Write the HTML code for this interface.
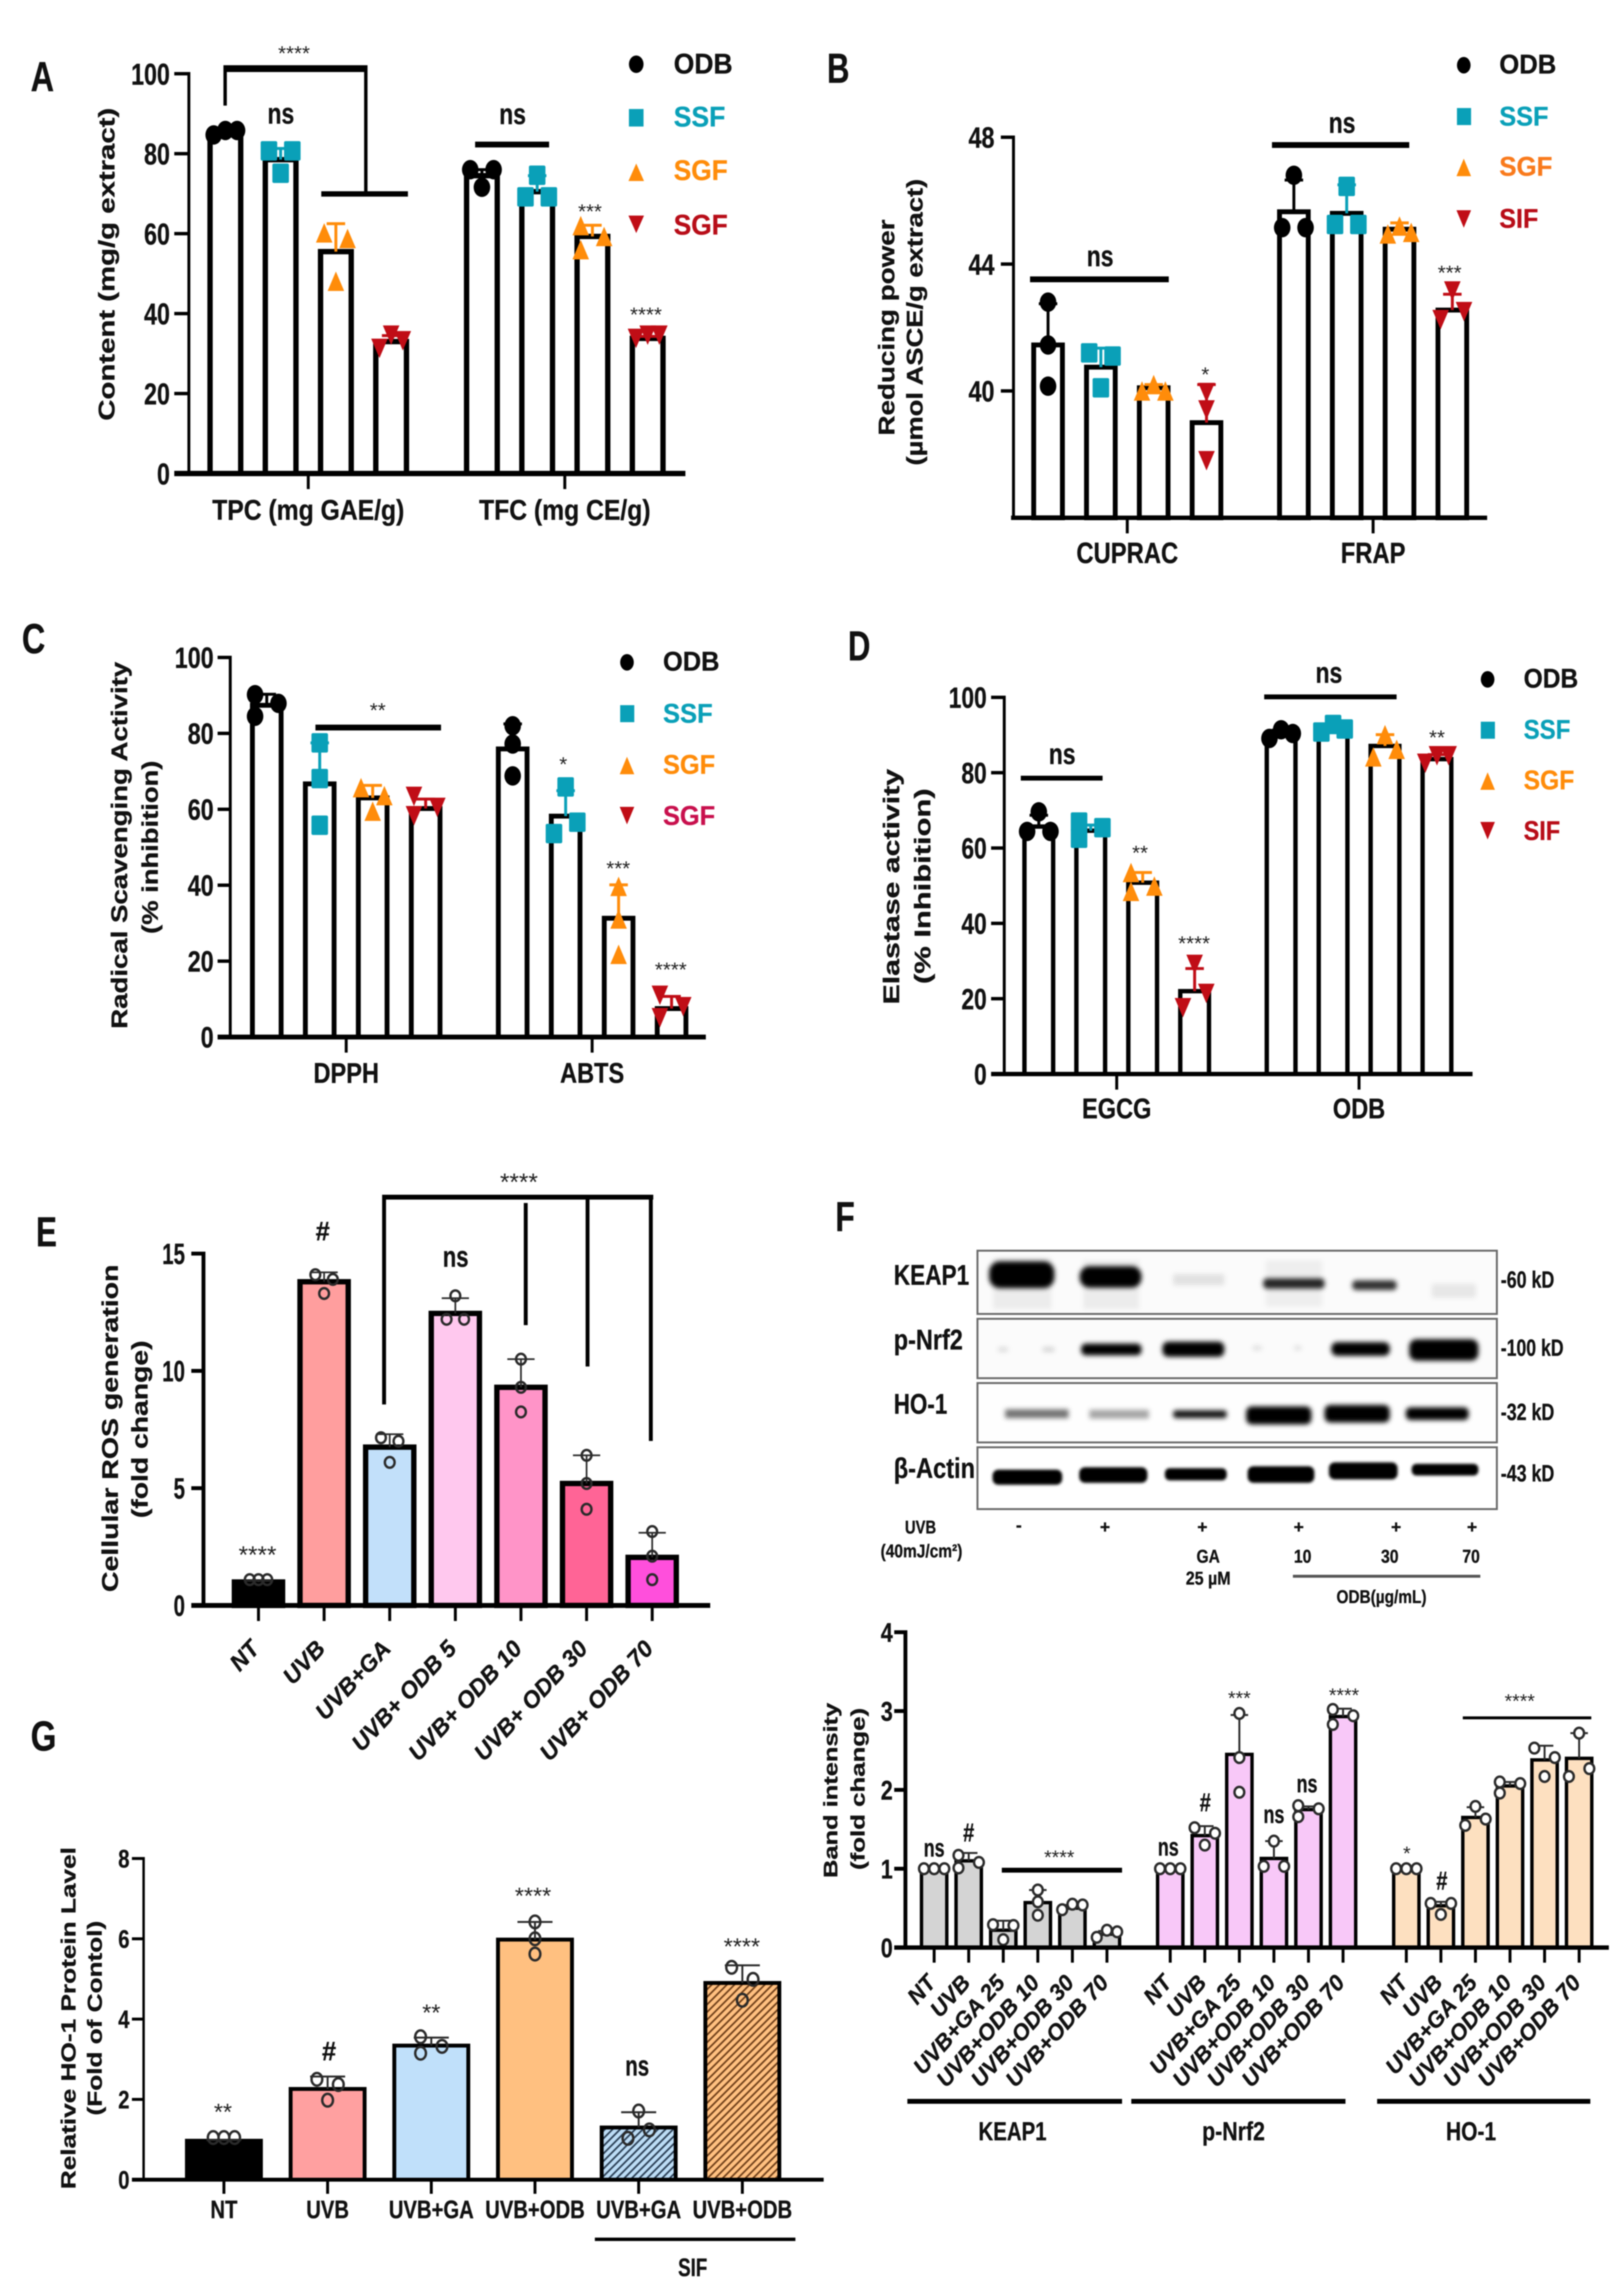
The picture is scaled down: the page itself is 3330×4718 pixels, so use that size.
<!DOCTYPE html>
<html lang="en">
<head>
<meta charset="utf-8">
<title>ODB antioxidant and HO-1 figure</title>
<style>
html,body{margin:0;padding:0;background:#fff;}
svg{display:block;filter:blur(1.3px);}
text{font-family:"Liberation Sans","Noto Sans CJK SC",sans-serif;font-weight:bold;fill:#111;stroke:#111;stroke-width:.6px;}
.m{text-anchor:middle;}
.st{font-weight:normal;fill:#222;stroke:none;text-anchor:middle;}
.teal{fill:#0aa0b8;stroke:#0aa0b8;}
.orange{fill:#ff8c0a;stroke:#ff8c0a;}
.red{fill:#b80d18;stroke:#b80d18;}
.crimson{fill:#c8104d;stroke:#c8104d;}
</style>
</head>
<body>
<svg id="figure" xmlns="http://www.w3.org/2000/svg" width="3330" height="4718" viewBox="0 0 3330 4718">
<defs>
<pattern id="hatch-blue" patternUnits="userSpaceOnUse" width="11" height="11" patternTransform="rotate(-45)">
<rect width="11" height="11" fill="#bcdcf5"/><rect width="11" height="3.5" fill="#2b3f55"/>
</pattern>
<pattern id="hatch-orange" patternUnits="userSpaceOnUse" width="11" height="11" patternTransform="rotate(-45)">
<rect width="11" height="11" fill="#ffc080"/><rect width="11" height="3.5" fill="#70401a"/>
</pattern>
<filter id="band-blur" x="-20%" y="-60%" width="140%" height="220%"><feGaussianBlur stdDeviation="5"/></filter>
</defs>
<rect width="3330" height="4718" fill="#fff"/>

<g id="charts"></g>

<g id="panel-letters" font-size="86">
<text x="63" y="187" textLength="48" lengthAdjust="spacingAndGlyphs">A</text>
<text x="1699" y="170" textLength="46" lengthAdjust="spacingAndGlyphs">B</text>
<text x="45" y="1342" textLength="48" lengthAdjust="spacingAndGlyphs">C</text>
<text x="1742" y="1357" textLength="46" lengthAdjust="spacingAndGlyphs">D</text>
<text x="74" y="2561" textLength="43" lengthAdjust="spacingAndGlyphs">E</text>
<text x="1716" y="2530" textLength="40" lengthAdjust="spacingAndGlyphs">F</text>
<text x="63" y="3597" textLength="53" lengthAdjust="spacingAndGlyphs">G</text>
</g>

<g id="axis-titles" class="m">
<text class="m" font-size="46" transform="translate(235,543) rotate(-90)" textLength="643" lengthAdjust="spacingAndGlyphs">Content (mg/g extract)</text>
<text class="m" font-size="46" transform="translate(1837,673) rotate(-90)" textLength="444" lengthAdjust="spacingAndGlyphs">Reducing power</text>
<text class="m" font-size="46" transform="translate(1895,662) rotate(-90)" textLength="589" lengthAdjust="spacingAndGlyphs">(µmol ASCE/g extract)</text>
<text class="m" font-size="46" transform="translate(261,1737) rotate(-90)" textLength="754" lengthAdjust="spacingAndGlyphs">Radical Scavenging Activity</text>
<text class="m" font-size="46" transform="translate(324,1741) rotate(-90)" textLength="356" lengthAdjust="spacingAndGlyphs">(% inhibition)</text>
<text class="m" font-size="46" transform="translate(1847,1822) rotate(-90)" textLength="484" lengthAdjust="spacingAndGlyphs">Elastase activity</text>
<text class="m" font-size="46" transform="translate(1911,1821) rotate(-90)" textLength="402" lengthAdjust="spacingAndGlyphs">(% Inhibition)</text>
<text class="m" font-size="46" transform="translate(242,2935) rotate(-90)" textLength="673" lengthAdjust="spacingAndGlyphs">Cellular ROS generation</text>
<text class="m" font-size="46" transform="translate(303,2937) rotate(-90)" textLength="365" lengthAdjust="spacingAndGlyphs">(fold change)</text>
<text class="m" font-size="40" transform="translate(1720,3679) rotate(-90)" textLength="360" lengthAdjust="spacingAndGlyphs">Band intensity</text>
<text class="m" font-size="40" transform="translate(1776,3676) rotate(-90)" textLength="333" lengthAdjust="spacingAndGlyphs">(fold change)</text>
<text class="m" font-size="42" transform="translate(155,4147) rotate(-90)" textLength="703" lengthAdjust="spacingAndGlyphs">Relative HO-1 Protein Lavel</text>
<text class="m" font-size="42" transform="translate(209,4147) rotate(-90)" textLength="400" lengthAdjust="spacingAndGlyphs">(Fold of Contol)</text>
</g>

<g id="legend-a" font-size="58">
<ellipse cx="1307" cy="132" rx="15" ry="18" fill="#000"/>
<text x="1384" y="151" textLength="121" lengthAdjust="spacingAndGlyphs">ODB</text>
<rect x="1292" y="224" width="30" height="36" fill="#0aa0b8"/>
<text class="teal" x="1384" y="260" textLength="106" lengthAdjust="spacingAndGlyphs">SSF</text>
<polygon points="1307,336 1323,372 1291,372" fill="#ff8c0a"/>
<text class="orange" x="1384" y="370" textLength="111" lengthAdjust="spacingAndGlyphs">SGF</text>
<polygon points="1291,443 1323,443 1307,479" fill="#c00d16"/>
<text class="red" x="1384" y="482" textLength="111" lengthAdjust="spacingAndGlyphs">SGF</text>
</g>

<g id="legend-b" font-size="56">
<ellipse cx="3007" cy="134" rx="14" ry="17" fill="#000"/>
<text x="3080" y="151" textLength="117" lengthAdjust="spacingAndGlyphs">ODB</text>
<rect x="2993" y="222" width="29" height="35" fill="#0aa0b8"/>
<text class="teal" x="3080" y="258" textLength="101" lengthAdjust="spacingAndGlyphs">SSF</text>
<polygon points="3007,326 3022,362 2992,362" fill="#ff8c0a"/>
<text x="3080" y="361" textLength="109" lengthAdjust="spacingAndGlyphs" style="fill:#f97a1c;stroke:#f97a1c">SGF</text>
<polygon points="2992,432 3022,432 3007,468" fill="#c00d16"/>
<text class="red" x="3080" y="468" textLength="80" lengthAdjust="spacingAndGlyphs">SIF</text>
</g>

<g id="legend-c" font-size="56">
<ellipse cx="1288" cy="1361" rx="14" ry="17" fill="#000"/>
<text x="1362" y="1378" textLength="116" lengthAdjust="spacingAndGlyphs">ODB</text>
<rect x="1274" y="1449" width="29" height="35" fill="#0aa0b8"/>
<text class="teal" x="1362" y="1485" textLength="102" lengthAdjust="spacingAndGlyphs">SSF</text>
<polygon points="1288,1555 1303,1591 1273,1591" fill="#ff8c0a"/>
<text class="orange" x="1362" y="1590" textLength="107" lengthAdjust="spacingAndGlyphs">SGF</text>
<polygon points="1273,1658 1303,1658 1288,1694" fill="#c00d16"/>
<text class="crimson" x="1362" y="1695" textLength="107" lengthAdjust="spacingAndGlyphs">SGF</text>
</g>

<g id="legend-d" font-size="56">
<ellipse cx="3056" cy="1396" rx="14" ry="17" fill="#000"/>
<text x="3130" y="1413" textLength="112" lengthAdjust="spacingAndGlyphs">ODB</text>
<rect x="3042" y="1483" width="29" height="35" fill="#0aa0b8"/>
<text class="teal" x="3130" y="1518" textLength="96" lengthAdjust="spacingAndGlyphs">SSF</text>
<polygon points="3056,1587 3071,1623 3041,1623" fill="#ff8c0a"/>
<text class="orange" x="3130" y="1622" textLength="104" lengthAdjust="spacingAndGlyphs">SGF</text>
<polygon points="3041,1689 3071,1689 3056,1725" fill="#c00d16"/>
<text class="red" x="3130" y="1726" textLength="75" lengthAdjust="spacingAndGlyphs">SIF</text>
</g>

<g id="annotations-a">
<rect x="459" y="134" width="296" height="14" fill="#000"/>
<rect x="459" y="134" width="7" height="83" fill="#000"/>
<rect x="748" y="134" width="7" height="264" fill="#000"/>
<rect x="660" y="393" width="178" height="11" fill="#000"/>
<rect x="976" y="291" width="152" height="12" fill="#000"/>
<text class="st" x="604" y="124" font-size="42">****</text>
<text class="m" x="577" y="254" font-size="60" textLength="55" lengthAdjust="spacingAndGlyphs">ns</text>
<text class="m" x="1053" y="255" font-size="60" textLength="55" lengthAdjust="spacingAndGlyphs">ns</text>
<text class="st" x="1212" y="449" font-size="42">***</text>
<text class="st" x="1327" y="661" font-size="42">****</text>
</g>

<g id="annotations-b">
<rect x="2116" y="568" width="285" height="12" fill="#000"/>
<rect x="2613" y="292" width="282" height="12" fill="#000"/>
<text class="m" x="2260" y="547" font-size="60" textLength="55" lengthAdjust="spacingAndGlyphs">ns</text>
<text class="m" x="2757" y="273" font-size="60" textLength="55" lengthAdjust="spacingAndGlyphs">ns</text>
<text class="st" x="2476" y="784" font-size="42">*</text>
<text class="st" x="2978" y="575" font-size="42">***</text>
</g>

<g id="annotations-c">
<rect x="648" y="1489" width="258" height="12" fill="#000"/>
<text class="st" x="776" y="1474" font-size="42">**</text>
<text class="st" x="1157" y="1585" font-size="42">*</text>
<text class="st" x="1270" y="1799" font-size="42">***</text>
<text class="st" x="1378" y="2007" font-size="42">****</text>
</g>

<g id="annotations-d">
<rect x="2097" y="1594" width="168" height="10" fill="#000"/>
<rect x="2597" y="1427" width="272" height="10" fill="#000"/>
<text class="m" x="2182" y="1570" font-size="60" textLength="55" lengthAdjust="spacingAndGlyphs">ns</text>
<text class="m" x="2730" y="1403" font-size="60" textLength="55" lengthAdjust="spacingAndGlyphs">ns</text>
<text class="st" x="2342" y="1767" font-size="42">**</text>
<text class="st" x="2453" y="1953" font-size="42">****</text>
<text class="st" x="2952" y="1530" font-size="42">**</text>
</g>

<g id="annotations-e">
<rect x="785" y="2455" width="557" height="10" fill="#000"/>
<rect x="785" y="2455" width="8" height="431" fill="#000"/>
<rect x="1076" y="2472" width="8" height="251" fill="#000"/>
<rect x="1203" y="2455" width="8" height="353" fill="#000"/>
<rect x="1333" y="2455" width="8" height="506" fill="#000"/>
<text class="st" x="1066" y="2446" font-size="50">****</text>
<text class="m" x="663" y="2549" font-size="56" textLength="29" lengthAdjust="spacingAndGlyphs">#</text>
<text class="m" x="936" y="2603" font-size="60" textLength="53" lengthAdjust="spacingAndGlyphs">ns</text>
<text class="st" x="529" y="3212" font-size="50">****</text>
</g>

<g id="annotations-f">
<rect x="2058" y="3838" width="247" height="10" fill="#000"/>
<rect x="3005" y="3527" width="264" height="6" fill="#000"/>
<rect x="1864" y="4313" width="441" height="10" fill="#000"/>
<rect x="2324" y="4313" width="440" height="10" fill="#000"/>
<rect x="2829" y="4313" width="438" height="10" fill="#000"/>
<text class="m" x="2080" y="4398" font-size="54" textLength="140" lengthAdjust="spacingAndGlyphs">KEAP1</text>
<text class="m" x="2534" y="4398" font-size="54" textLength="129" lengthAdjust="spacingAndGlyphs">p-Nrf2</text>
<text class="m" x="3022" y="4398" font-size="54" textLength="103" lengthAdjust="spacingAndGlyphs">HO-1</text>
<text class="m" x="1919" y="3815" font-size="52" textLength="43" lengthAdjust="spacingAndGlyphs">ns</text>
<text class="m" x="1990" y="3784" font-size="54" textLength="23" lengthAdjust="spacingAndGlyphs">#</text>
<text class="st" x="2176" y="3830" font-size="40">****</text>
<text class="m" x="2400" y="3813" font-size="52" textLength="43" lengthAdjust="spacingAndGlyphs">ns</text>
<text class="m" x="2476" y="3722" font-size="54" textLength="23" lengthAdjust="spacingAndGlyphs">#</text>
<text class="st" x="2546" y="3503" font-size="40">***</text>
<text class="m" x="2617" y="3746" font-size="52" textLength="43" lengthAdjust="spacingAndGlyphs">ns</text>
<text class="m" x="2685" y="3683" font-size="52" textLength="43" lengthAdjust="spacingAndGlyphs">ns</text>
<text class="st" x="2761" y="3497" font-size="40">****</text>
<text class="st" x="2890" y="3822" font-size="40">*</text>
<text class="m" x="2962" y="3883" font-size="54" textLength="23" lengthAdjust="spacingAndGlyphs">#</text>
<text class="st" x="3122" y="3509" font-size="40">****</text>
</g>

<g id="annotations-g">
<rect x="1222" y="4598" width="412" height="7" fill="#000"/>
<text class="m" x="1423" y="4677" font-size="52" textLength="60" lengthAdjust="spacingAndGlyphs">SIF</text>
<text class="st" x="458" y="4356" font-size="48">**</text>
<text class="m" x="676" y="4234" font-size="56" textLength="29" lengthAdjust="spacingAndGlyphs">#</text>
<text class="st" x="886" y="4152" font-size="48">**</text>
<text class="st" x="1095" y="3912" font-size="48">****</text>
<text class="m" x="1309" y="4265" font-size="58" textLength="49" lengthAdjust="spacingAndGlyphs">ns</text>
<text class="st" x="1524" y="4016" font-size="48">****</text>
</g>

<g id="western-blot">
<rect x="2008" y="2570" width="1067" height="130" fill="#fbfbfb" stroke="#6a6a6a" stroke-width="4"/>
<rect x="2008" y="2710" width="1067" height="122" fill="#fbfbfb" stroke="#6a6a6a" stroke-width="4"/>
<rect x="2008" y="2842" width="1067" height="122" fill="#fefefe" stroke="#6a6a6a" stroke-width="4"/>
<rect x="2008" y="2974" width="1067" height="127" fill="#fff" stroke="#6a6a6a" stroke-width="4"/>
<g filter="url(#band-blur)" fill="#000">
<rect x="2040" y="2585" width="120" height="105" opacity=".06"/>
<rect x="2225" y="2590" width="115" height="100" opacity=".06"/>
<rect x="2600" y="2590" width="116" height="95" opacity=".05"/>
<rect x="2032" y="2592" rx="22" width="134" height="55"/>
<rect x="2218" y="2602" rx="20" width="127" height="44"/>
<rect x="2410" y="2618" width="105" height="23" opacity=".1"/>
<rect x="2595" y="2627" rx="8" width="126" height="21" opacity=".85"/>
<rect x="2778" y="2631" rx="8" width="91" height="20" opacity=".8"/>
<rect x="2941" y="2638" width="91" height="29" opacity=".08"/>
<rect x="2051" y="2768" width="19" height="10" opacity=".12"/>
<rect x="2142" y="2768" width="24" height="10" opacity=".15"/>
<rect x="2221" y="2761" rx="10" width="124" height="24"/>
<rect x="2388" y="2757" rx="12" width="127" height="31"/>
<rect x="2573" y="2765" width="19" height="10" opacity=".1"/>
<rect x="2659" y="2765" width="14" height="10" opacity=".1"/>
<rect x="2735" y="2758" rx="12" width="120" height="28"/>
<rect x="2895" y="2752" rx="15" width="142" height="44"/>
<rect x="2065" y="2896" width="130" height="18" opacity=".55"/>
<rect x="2238" y="2897" width="122" height="18" opacity=".35"/>
<rect x="2410" y="2898" rx="6" width="110" height="16" opacity=".92"/>
<rect x="2560" y="2890" rx="12" width="134" height="37"/>
<rect x="2721" y="2887" rx="12" width="134" height="36"/>
<rect x="2888" y="2892" rx="10" width="129" height="26"/>
</g>
<g fill="#000" style="filter:blur(3px)">
<rect x="2039" y="3020" rx="12" width="143" height="31"/>
<rect x="2217" y="3015" rx="12" width="140" height="32"/>
<rect x="2393" y="3017" rx="10" width="127" height="25"/>
<rect x="2563" y="3013" rx="12" width="137" height="34"/>
<rect x="2730" y="3005" rx="12" width="141" height="35"/>
<rect x="2900" y="3008" rx="10" width="137" height="24"/>
</g>
<text x="1836" y="2640" font-size="58" textLength="155" lengthAdjust="spacingAndGlyphs">KEAP1</text>
<text x="1836" y="2773" font-size="58" textLength="142" lengthAdjust="spacingAndGlyphs">p-Nrf2</text>
<text x="1836" y="2905" font-size="58" textLength="110" lengthAdjust="spacingAndGlyphs">HO-1</text>
<text x="1836" y="3037" font-size="58" textLength="167" lengthAdjust="spacingAndGlyphs">β-Actin</text>
<text x="3083" y="2646" font-size="48" textLength="110" lengthAdjust="spacingAndGlyphs">-60 kD</text>
<text x="3083" y="2786" font-size="48" textLength="129" lengthAdjust="spacingAndGlyphs">-100 kD</text>
<text x="3083" y="2918" font-size="48" textLength="110" lengthAdjust="spacingAndGlyphs">-32 kD</text>
<text x="3083" y="3044" font-size="48" textLength="110" lengthAdjust="spacingAndGlyphs">-43 kD</text>
<text class="m" x="1891" y="3151" font-size="38" textLength="64" lengthAdjust="spacingAndGlyphs">UVB</text>
<text class="m" x="1893" y="3200" font-size="38" textLength="168" lengthAdjust="spacingAndGlyphs">(40mJ/cm²)</text>
<text class="m" x="2093" y="3146" font-size="36">-</text>
<text class="m" x="2270" y="3150" font-size="36">+</text>
<text class="m" x="2470" y="3150" font-size="36">+</text>
<text class="m" x="2668" y="3150" font-size="36">+</text>
<text class="m" x="2868" y="3150" font-size="36">+</text>
<text class="m" x="3024" y="3150" font-size="36">+</text>
<text class="m" x="2482" y="3211" font-size="38" textLength="48" lengthAdjust="spacingAndGlyphs">GA</text>
<text class="m" x="2482" y="3256" font-size="38" textLength="92" lengthAdjust="spacingAndGlyphs">25 µM</text>
<text class="m" x="2676" y="3211" font-size="38" textLength="36" lengthAdjust="spacingAndGlyphs">10</text>
<text class="m" x="2855" y="3211" font-size="38" textLength="36" lengthAdjust="spacingAndGlyphs">30</text>
<text class="m" x="3022" y="3211" font-size="38" textLength="36" lengthAdjust="spacingAndGlyphs">70</text>
<rect x="2656" y="3236" width="385" height="6" fill="#555"/>
<text class="m" x="2838" y="3294" font-size="38" textLength="185" lengthAdjust="spacingAndGlyphs">ODB(µg/mL)</text>
</g>
</svg>

<script>
/* Panel A */
const aGroups = ['TPC (mg GAE/g)', 'TFC (mg CE/g)'];
const aTicks = [0, 20, 40, 60, 80, 100];
const aMeans = [85.4, 78.5, 55.5, 33, 74.5, 70.5, 59.3, 33.8];
const aErrors = [0.6, 2.8, 7, 1.5, 1.5, 4, 2.8, 0.5];
const aPoints = [[85.8, 85.8, 84.7], [80.7, 80.7, 75.1], [60.2, 58.8, 48.1], [34.6, 33.2, 31.3], [76, 76, 71.6], [74.6, 69.2, 69.2], [62, 59.3, 56], [34.6, 34.6, 33.8]];

/* Panel B */
const bGroups = ['CUPRAC', 'FRAP'];
const bTicks = [40, 44, 48];
const bMeans = [41.45, 40.75, 40.1, 39, 45.65, 45.6, 45.1, 42.55];
const bErrors = [1.3, 0.6, 0.1, 1.2, 1, 0.9, 0.2, 0.5];
const bPoints = [[42.8, 41.45, 40.15], [41.2, 41.1, 40.1], [40.2, 40, 40], [39.95, 39.4, 37.8], [46.8, 45.15, 45.15], [46.45, 45.25, 45.25], [45.2, 44.95, 45], [43.15, 42.5, 42.25]];

/* Panel C */
const cGroups = ['DPPH', 'ABTS'];
const cTicks = [0, 20, 40, 60, 80, 100];
const cMeans = [87.4, 66.7, 63, 60.2, 75.9, 58.2, 31.3, 7.5];
const cErrors = [2.9, 10.8, 3.3, 2.5, 6.6, 6.7, 8.8, 3.2];
const cPoints = [[90.2, 87.9, 84.5], [77.5, 68.1, 55.8], [65.7, 63.6, 59.5], [63.4, 60.5, 58.3], [82, 77.2, 68.8], [65.9, 56.6, 53.6], [39.7, 31.1, 21.8], [11, 8, 5.1]];

/* Panel D */
const dGroups = ['EGCG', 'ODB'];
const dTicks = [0, 20, 40, 60, 80, 100];
const dMeans = [65.7, 64.6, 50.8, 22, 90.3, 91.7, 87.1, 83.6];
const dErrors = [3, 1.5, 2.7, 6, 1, 1, 3, 1.2];
const dPoints = [[69.6, 64.4, 64.4], [66.9, 65.4, 62.6], [53.5, 49.9, 48.5], [29.1, 21.4, 17.6], [91.4, 90.4, 89.1], [92.8, 91.6, 90.8], [90.1, 86.2, 84.2], [84.5, 84.5, 82.5]];

/* Panel E */
const eCategories = ['NT', 'UVB', 'UVB+GA', 'UVB+ ODB 5', 'UVB+ ODB 10', 'UVB+ ODB 30', 'UVB+ ODB 70'];
const eTicks = [0, 5, 10, 15];
const eMeans = [1, 13.8, 6.75, 12.45, 9.3, 5.2, 2.05];
const eErrors = [0.05, 0.4, 0.55, 0.65, 1.2, 1.2, 1.05];
const ePoints = [[1.1, 1.1, 1.1], [14.1, 13.9, 13.3], [7.15, 7, 6.1], [13.2, 12.2, 12.2], [10.5, 9.3, 8.25], [6.4, 5.2, 4.1], [3.15, 2.1, 1.1]];

/* Panel F (band intensity) */
const fCategories = ['NT', 'UVB', 'UVB+GA 25', 'UVB+ODB 10', 'UVB+ODB 30', 'UVB+ODB 70', 'NT', 'UVB', 'UVB+GA 25', 'UVB+ODB 10', 'UVB+ODB 30', 'UVB+ODB 70', 'NT', 'UVB', 'UVB+GA 25', 'UVB+ODB 10', 'UVB+ODB 30', 'UVB+ODB 70'];
const fTicks = [0, 1, 2, 3, 4];
const fMeans = [1, 1.1, 0.22, 0.57, 0.5, 0.17, 1, 1.42, 2.45, 1.13, 1.75, 2.93, 1, 0.53, 1.65, 2.05, 2.38, 2.4];
const fErrors = [0.01, 0.1, 0.12, 0.16, 0.04, 0.04, 0.01, 0.12, 0.5, 0.22, 0.04, 0.1, 0.01, 0.05, 0.13, 0.05, 0.18, 0.32];
const fPoints = [[1, 1, 1], [1.17, 1.08, 1.01], [0.29, 0.28, 0.1], [0.73, 0.58, 0.41], [0.55, 0.54, 0.48], [0.22, 0.2, 0.13], [1, 1, 1], [1.52, 1.45, 1.3], [2.97, 2.41, 1.97], [1.35, 1.03, 1.03], [1.8, 1.76, 1.66], [3.02, 2.94, 2.83], [1, 1, 1], [0.56, 0.56, 0.42], [1.79, 1.63, 1.55], [2.1, 2.08, 1.96], [2.53, 2.41, 2.17], [2.72, 2.27, 2.17]];

/* Panel G */
const gCategories = ['NT', 'UVB', 'UVB+GA', 'UVB+ODB', 'UVB+GA', 'UVB+ODB'];
const gTicks = [0, 2, 4, 6, 8];
const gMeans = [0.97, 2.26, 3.34, 5.98, 1.3, 4.9];
const gErrors = [0.02, 0.31, 0.2, 0.44, 0.38, 0.44];
const gPoints = [[1.05, 1.05, 1.05], [2.5, 2.37, 1.98], [3.56, 3.32, 3.15], [6.42, 6, 5.62], [1.71, 1.24, 1.03], [5.29, 4.99, 4.47]];

const NS = 'http://www.w3.org/2000/svg';
const SERIES_SHAPES = ['circle', 'square', 'tri', 'tridown'];
const SERIES_COLORS = ['#000', '#0aa0b8', '#ff8c0a', '#c00d16'];

function add(parent, tag, attrs, name) {
  const el = document.createElementNS(NS, tag);
  for (const k in attrs) el.setAttribute(k, attrs[k]);
  
  
  parent.appendChild(el);
  return el;
}

function spread(vals, y, w, th) {
  const order = vals.map((v, i) => [v, i]).sort((a, b) => b[0] - a[0]);
  const g1 = y(order[1][0]) - y(order[0][0]);
  const g2 = y(order[2][0]) - y(order[1][0]);
  let pattern;
  if (g1 >= th && g2 >= th) pattern = [0, 0, 0];
  else if (g1 >= th) pattern = [0, 1, -1];
  else if (g2 >= th) pattern = [-1, 1, 0];
  else if (g1 + g2 < th) pattern = [0, 1, -1];
  else pattern = [-1, 1, -1];
  const out = [];
  order.forEach((o, k) => { out[o[1]] = pattern[k] * w; });
  return out;
}

function marker(g, shape, cx, cy, color, c, name) {
  const rx = c.mrx, ry = c.mry;
  if (c.open) {
    add(g, 'ellipse', {cx: cx, cy: cy, rx: rx, ry: ry, fill: c.openFill, stroke: '#2a2a2a', 'stroke-width': c.openStroke}, name);
  } else if (shape === 'circle') {
    add(g, 'ellipse', {cx: cx, cy: cy, rx: rx, ry: ry, fill: color}, name);
  } else if (shape === 'square') {
    add(g, 'rect', {x: cx - rx, y: cy - ry, width: 2 * rx, height: 2 * ry, rx: 3, fill: color}, name);
  } else if (shape === 'tri') {
    add(g, 'polygon', {points: (cx) + ',' + (cy - ry) + ' ' + (cx + rx) + ',' + (cy + ry) + ' ' + (cx - rx) + ',' + (cy + ry), fill: color}, name);
  } else {
    add(g, 'polygon', {points: (cx - rx) + ',' + (cy - ry) + ' ' + (cx + rx) + ',' + (cy - ry) + ' ' + (cx) + ',' + (cy + ry), fill: color}, name);
  }
}

function drawPanel(c) {
  const root = document.getElementById('charts');
  const g = add(root, 'g', {}, c.id + '-chart');
  const y = v => c.yBase - (v - c.lo) / (c.hi - c.lo) * (c.yBase - c.yTop);
  const x = i => c.first + i * c.pitch + Math.floor(i / c.groupSize) * c.groupGap;

  c.means.forEach((m, i) => {
    const fill = c.fills ? c.fills[c.fills.length === c.means.length ? i : Math.floor(i / c.groupSize)] : '#fff';
    const w = c.barW - c.sw;
    add(g, 'rect', {x: x(i) - w / 2, y: y(m), width: w, height: c.yBase - y(m), fill: fill, stroke: '#000', 'stroke-width': c.sw}, c.id + '-bar-' + i);
  });

  c.means.forEach((m, i) => {
    const col = c.open ? '#2a2a2a' : SERIES_COLORS[i % 4];
    const topY = y(m + c.errors[i]);
    add(g, 'line', {x1: x(i), x2: x(i), y1: y(m), y2: topY, stroke: col, 'stroke-width': c.errW}, c.id + '-error-stem-' + i);
    add(g, 'line', {x1: x(i) - c.capW / 2, x2: x(i) + c.capW / 2, y1: topY, y2: topY, stroke: col, 'stroke-width': c.errW}, c.id + '-error-cap-' + i);
    const off = spread(c.points[i], y, c.jitter, c.th);
    c.points[i].forEach((p, k) => {
      marker(g, SERIES_SHAPES[i % 4], x(i) + off[k], y(p), SERIES_COLORS[i % 4], c, c.id + '-point-' + i + '-' + k);
    });
  });

  add(g, 'rect', {x: c.axisX - c.axisW / 2, y: c.yTop - c.tickW / 2, width: c.axisW, height: c.yBase - c.yTop + c.tickW / 2, fill: '#000'}, c.id + '-y-axis');
  add(g, 'rect', {x: c.base0, y: c.yBase - c.baseW / 2, width: c.base1 - c.base0, height: c.baseW, fill: '#000'}, c.id + '-x-axis');

  c.ticks.forEach(t => {
    add(g, 'rect', {x: c.tickX, y: y(t) - c.tickW / 2, width: c.axisX - c.tickX, height: c.tickW, fill: '#000'}, c.id + '-y-tick-' + t);
    const lab = add(g, 'text', {transform: 'translate(' + c.labRight + ',' + (y(t) + c.labSize * 0.36) + ') scale(' + c.labSx + ',1)', 'text-anchor': 'end', 'font-size': c.labSize}, c.id + '-y-tick-label-' + t);
    lab.textContent = t;
  });

  if (c.groups) {
    c.groups.forEach((name, k) => {
      const cx = (x(k * c.groupSize) + x(k * c.groupSize + c.groupSize - 1)) / 2;
      add(g, 'rect', {x: cx - 3, y: c.yBase, width: 6, height: c.xTick, fill: '#000'}, c.id + '-x-tick-' + k);
      const lab = add(g, 'text', {transform: 'translate(' + cx + ',' + c.catY + ') scale(' + c.catSx + ',1)', 'text-anchor': 'middle', 'font-size': c.catSize}, c.id + '-x-label-' + k);
      lab.textContent = name;
    });
  } else {
    c.categories.forEach((name, i) => {
      add(g, 'rect', {x: x(i) - 3, y: c.yBase, width: 6, height: c.xTick, fill: '#000'}, c.id + '-x-tick-' + i);
      let lab;
      if (c.rot) {
        lab = add(g, 'text', {transform: 'translate(' + (x(i) + c.rotDx) + ',' + c.catY + ') rotate(' + c.rot + ')', 'text-anchor': 'end', 'font-size': c.catSize, 'font-style': 'italic'}, c.id + '-x-label-' + i);
      } else {
        lab = add(g, 'text', {transform: 'translate(' + x(i) + ',' + c.catY + ') scale(' + c.catSx + ',1)', 'text-anchor': 'middle', 'font-size': c.catSize}, c.id + '-x-label-' + i);
      }
      lab.textContent = name;
    });
  }
}

const solidStyle = {mrx: 17, mry: 20, sw: 10, errW: 6, capW: 38, jitter: 24, th: 30, groupSize: 4, axisW: 6, tickW: 7, baseW: 10, xTick: 32, open: false};

drawPanel(Object.assign({}, solidStyle, {
  id: 'panel-a', groups: aGroups, ticks: aTicks, means: aMeans, errors: aErrors, points: aPoints,
  lo: 0, hi: 100, yTop: 151.5, yBase: 973, axisX: 388, tickX: 358, base0: 358, base1: 1408,
  first: 463, pitch: 113.5, groupGap: 73, barW: 74, sw: 11, baseW: 11,
  labRight: 349, labSize: 62, labSx: 0.77, catY: 1068, catSize: 58, catSx: 0.875
}));

drawPanel(Object.assign({}, solidStyle, {
  id: 'panel-b', groups: bGroups, ticks: bTicks, means: bMeans, errors: bErrors, points: bPoints,
  lo: 36, hi: 48, yTop: 282, yBase: 1064, axisX: 2082, tickX: 2056, base0: 2077, base1: 3055,
  first: 2153, pitch: 108.5, groupGap: 71, barW: 69, baseW: 9,
  labRight: 2043, labSize: 60, labSx: 0.8, catY: 1157, catSize: 60, catSx: 0.815
}));

drawPanel(Object.assign({}, solidStyle, {
  id: 'panel-c', groups: cGroups, ticks: cTicks, means: cMeans, errors: cErrors, points: cPoints,
  lo: 0, hi: 100, yTop: 1351, yBase: 2131, axisX: 473, tickX: 447, base0: 447, base1: 1450,
  first: 548, pitch: 108.8, groupGap: 70, barW: 69,
  labRight: 439, labSize: 60, labSx: 0.8, catY: 2225, catSize: 58, catSx: 0.835
}));

drawPanel(Object.assign({}, solidStyle, {
  id: 'panel-d', groups: dGroups, ticks: dTicks, means: dMeans, errors: dErrors, points: dPoints,
  lo: 0, hi: 100, yTop: 1433, yBase: 2207, axisX: 2063, tickX: 2036, base0: 2036, base1: 3025,
  first: 2134, pitch: 106.7, groupGap: 71, barW: 68, sw: 9, baseW: 9,
  labRight: 2027, labSize: 60, labSx: 0.78, catY: 2298, catSize: 58, catSx: 0.835
}));

drawPanel({
  id: 'panel-e', categories: eCategories, ticks: eTicks, means: eMeans, errors: eErrors, points: ePoints,
  fills: ['#000', '#ff9e9e', '#c2e0fa', '#ffc8ee', '#ff94c8', '#ff6496', '#ff4fdc'],
  lo: 0, hi: 15, yTop: 2576, yBase: 3299, axisX: 418, tickX: 393, base0: 393, base1: 1459,
  first: 531, pitch: 134.8, groupSize: 99, groupGap: 0, barW: 110, sw: 11,
  open: true, openFill: 'none', openStroke: 5, mrx: 10, mry: 11, errW: 3.5, capW: 56, jitter: 18, th: 22,
  axisW: 8, tickW: 8, baseW: 10, xTick: 32,
  labRight: 380, labSize: 60, labSx: 0.7, catY: 3390, catSize: 48, rot: -47, rotDx: 5
});

drawPanel({
  id: 'panel-f', categories: fCategories, ticks: fTicks, means: fMeans, errors: fErrors, points: fPoints,
  fills: ['#d4d4d4', '#f8c8f8', '#fde0c0'],
  lo: 0, hi: 4, yTop: 3354, yBase: 4002, axisX: 1860, tickX: 1837, base0: 1837, base1: 3305,
  first: 1919, pitch: 71, groupSize: 6, groupGap: 59, barW: 59, sw: 7,
  open: true, openFill: '#fff', openStroke: 5, mrx: 10, mry: 11, errW: 4, capW: 36, jitter: 21, th: 22,
  axisW: 8, tickW: 8, baseW: 9, xTick: 31,
  labRight: 1834, labSize: 56, labSx: 0.79, catY: 4076, catSize: 46, rot: -48, rotDx: 6
});

drawPanel({
  id: 'panel-g', categories: gCategories, ticks: gTicks, means: gMeans, errors: gErrors, points: gPoints,
  fills: ['#000', '#ffa0a0', '#c0e0fa', '#ffc080', 'url(#hatch-blue)', 'url(#hatch-orange)'],
  lo: 0, hi: 8, yTop: 3819, yBase: 4479, axisX: 295, tickX: 271, base0: 271, base1: 1692,
  first: 460, pitch: 213, groupSize: 99, groupGap: 0, barW: 160, sw: 8,
  open: true, openFill: 'none', openStroke: 5, mrx: 11, mry: 13, errW: 4, capW: 72, jitter: 22, th: 30,
  axisW: 5, tickW: 6, baseW: 8, xTick: 29,
  labRight: 266, labSize: 52, labSx: 0.8, catY: 4558, catSize: 52, catSx: 0.8
});
</script>
</body>
</html>
